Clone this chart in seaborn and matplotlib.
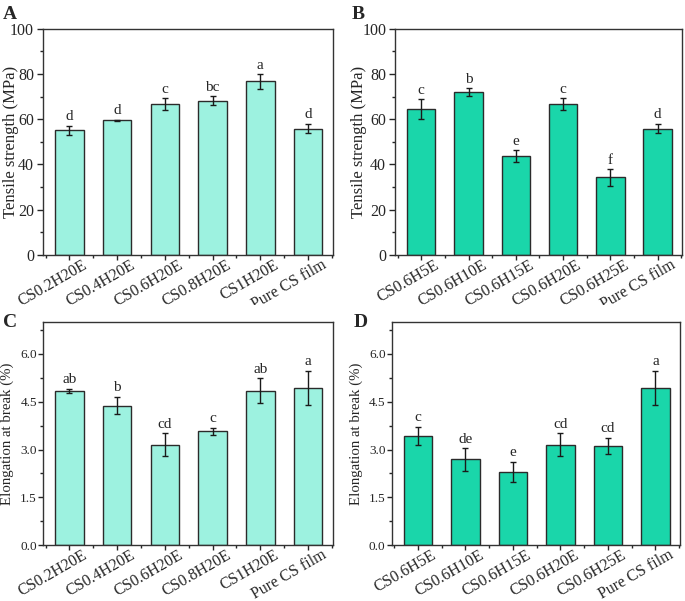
import seaborn as sns
import matplotlib.pyplot as plt
import matplotlib.transforms as mtrans
import pandas as pd
from matplotlib.patches import Rectangle
from matplotlib.ticker import MultipleLocator

# Dados
amostras_h = ['CS0.2H20E', 'CS0.4H20E', 'CS0.6H20E', 'CS0.8H20E', 'CS1H20E', 'Pure CS film']
amostras_e = ['CS0.6H5E', 'CS0.6H10E', 'CS0.6H15E', 'CS0.6H20E', 'CS0.6H25E', 'Pure CS film']

ts_a = [55.2, 59.5, 66.8, 68.2, 76.8, 55.9]
ts_a_err = [2.0, 0.3, 2.6, 2.1, 3.3, 2.1]
ts_a_let = ['d', 'd', 'c', 'bc', 'a', 'd']

ts_b = [64.5, 72.1, 43.6, 66.8, 34.3, 55.9]
ts_b_err = [4.3, 1.6, 2.7, 2.6, 3.7, 2.1]
ts_b_let = ['c', 'b', 'e', 'c', 'f', 'd']

el_c = [4.83, 4.38, 3.15, 3.57, 4.85, 4.94]
el_c_err = [0.07, 0.27, 0.36, 0.11, 0.39, 0.54]
el_c_let = ['ab', 'b', 'cd', 'c', 'ab', 'a']

el_d = [3.43, 2.69, 2.30, 3.15, 3.11, 4.94]
el_d_err = [0.29, 0.35, 0.32, 0.36, 0.26, 0.54]
el_d_let = ['c', 'de', 'e', 'cd', 'cd', 'a']

cor_clara = '#9DF2E0'
cor_escura = '#1AD6AA'

sns.set_style('ticks')
plt.rcParams['font.family'] = ['Liberation Serif', 'DejaVu Serif']
plt.rcParams['axes.linewidth'] = 1.0


def painel(ax, nomes, valores, erros, letras, cor, ylim, maj, minr, ylabel,
           fs_ytick, fs_lab, fmt, off, xlab, tick_len, tick_pad):
    df = pd.DataFrame({'amostra': nomes, 'valor': valores, 'erro': erros})
    sns.barplot(data=df, x='amostra', y='valor', color=cor, width=0.6,
                edgecolor='#2b2b2b', linewidth=1.0, errorbar=None, saturation=1, ax=ax)
    ax.errorbar(range(len(nomes)), df['valor'], yerr=df['erro'], fmt='none',
                ecolor='#1a1a1a', elinewidth=1.0, capsize=2.5, capthick=1.0)
    for i, (v, e, l) in enumerate(zip(valores, erros, letras)):
        ax.text(i, v + e + off, l, ha='center', va='bottom', fontsize=11)
    ax.set_ylim(*ylim)
    ax.set_xlim(-0.55, 5.52)
    ax.yaxis.set_major_locator(MultipleLocator(maj))
    ax.yaxis.set_minor_locator(MultipleLocator(minr))
    ax.xaxis.set_minor_locator(MultipleLocator(0.5))
    ax.yaxis.set_major_formatter(fmt)
    ax.tick_params(axis='x', which='major', length=3.8, width=1, pad=2)
    ax.tick_params(axis='y', which='major', length=tick_len, width=1,
                   pad=tick_pad, labelsize=fs_ytick)
    ax.tick_params(axis='both', which='minor', length=2.2, width=1)
    ax.set_xticks(range(len(nomes)))
    ax.set_xticklabels(nomes, rotation=30, ha='right', va='top',
                       rotation_mode='anchor', fontsize=11.5)
    # rótulos deslocados para a direita do tick, como no Origin
    desloc = mtrans.ScaledTranslation(0.13, 0.06, ax.figure.dpi_scale_trans)
    for t in ax.get_xticklabels():
        t.set_transform(t.get_transform() + desloc)
    ax.set_xlabel('')
    ax.set_ylabel(ylabel, fontsize=fs_lab)
    ax.yaxis.set_label_coords(xlab, 0.5)
    for s in ax.spines.values():
        s.set_visible(True)
        s.set_color('#333333')


fig = plt.figure(figsize=(6.85, 6.01), dpi=100)
axA = fig.add_axes([0.063, 0.576, 0.423, 0.376])
axB = fig.add_axes([0.577, 0.576, 0.419, 0.376])
axC = fig.add_axes([0.063, 0.093, 0.423, 0.371])
axD = fig.add_axes([0.572, 0.093, 0.421, 0.371])

painel(axA, amostras_h, ts_a, ts_a_err, ts_a_let, cor_clara, (0, 100), 20, 10,
       'Tensile strength (MPa)', 11.5, 12, '{x:.0f}', 1.0, -0.085, 4.5, 2)
painel(axB, amostras_e, ts_b, ts_b_err, ts_b_let, cor_escura, (0, 100), 20, 10,
       'Tensile strength (MPa)', 11.5, 12, '{x:.0f}', 1.0, -0.097, 4.5, 2)
painel(axC, amostras_h, el_c, el_c_err, el_c_let, cor_clara, (0, 7), 1.5, 0.75,
       'Elongation at break (%)', 9.5, 10.7, '{x:.1f}', 0.08, -0.10, 3.5, 1)
painel(axD, amostras_e, el_d, el_d_err, el_d_let, cor_escura, (0, 7), 1.5, 0.75,
       'Elongation at break (%)', 9.5, 10.7, '{x:.1f}', 0.08, -0.10, 3.5, 1)

# a linha de baixo cobre o final dos rótulos da linha de cima, como no original
axA.set_zorder(0)
axB.set_zorder(0)
fig.add_artist(Rectangle((0, 0), 1, 0.493, transform=fig.transFigure,
                         facecolor='white', edgecolor='none', zorder=1))
axC.set_zorder(2)
axD.set_zorder(2)

for letra, x, y in [('A', 0.004, 0.99), ('B', 0.513, 0.99), ('C', 0.004, 0.478), ('D', 0.516, 0.478)]:
    fig.text(x, y, letra, fontsize=14, fontweight='bold', va='top', zorder=3)

fig.savefig('out.png', dpi=100)
